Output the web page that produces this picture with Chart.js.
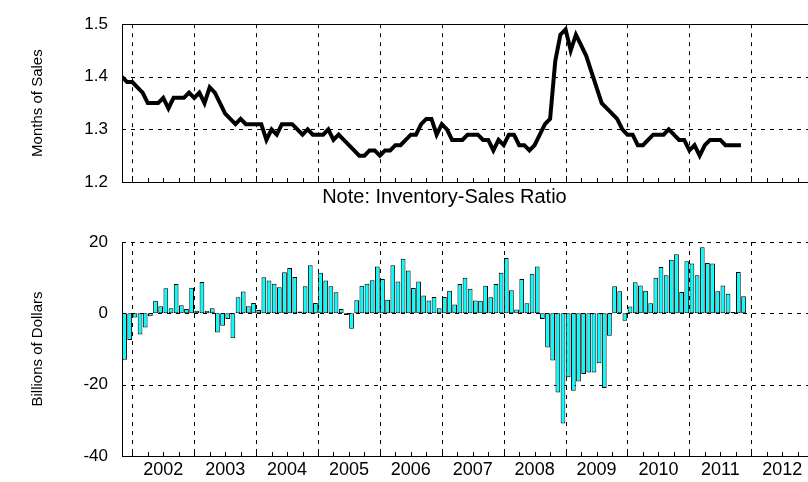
<!DOCTYPE html>
<html>
<head>
<meta charset="utf-8">
<script src="https://cdn.jsdelivr.net/npm/chart.js@4/dist/chart.umd.min.js"></script>
<style>
  body { margin: 0; background: #fff; }
  canvas { display: block; }
</style>
</head>
<body>
<canvas id="ratioChart" width="808" height="215"></canvas>
<canvas id="changeChart" width="808" height="267"></canvas>
<script>
// monthly series, first value is Nov 2001
let firstYear = 2001
let firstMonth = 11

// inventory-sales ratio, months of sales
let ratio = [
  1.40, 1.39, 1.39, 1.38, 1.37, 1.35, 1.35, 1.35, 1.36, 1.34,
  1.36, 1.36, 1.36, 1.37, 1.36, 1.37, 1.35, 1.38, 1.37, 1.35,
  1.33, 1.32, 1.31, 1.32, 1.31, 1.31, 1.31, 1.31, 1.28, 1.30,
  1.29, 1.31, 1.31, 1.31, 1.30, 1.29, 1.30, 1.29, 1.29, 1.29,
  1.30, 1.28, 1.29, 1.28, 1.27, 1.26, 1.25, 1.25, 1.26, 1.26,
  1.25, 1.26, 1.26, 1.27, 1.27, 1.28, 1.29, 1.29, 1.31, 1.32,
  1.32, 1.29, 1.31, 1.30, 1.28, 1.28, 1.28, 1.29, 1.29, 1.29,
  1.28, 1.28, 1.26, 1.28, 1.27, 1.29, 1.29, 1.27, 1.27, 1.26,
  1.27, 1.29, 1.31, 1.32, 1.43, 1.48, 1.49, 1.45, 1.48, 1.46,
  1.44, 1.41, 1.38, 1.35, 1.34, 1.33, 1.32, 1.30, 1.29, 1.29,
  1.27, 1.27, 1.28, 1.29, 1.29, 1.29, 1.30, 1.29, 1.28, 1.28,
  1.26, 1.27, 1.25, 1.27, 1.28, 1.28, 1.28, 1.27, 1.27, 1.27, 1.27
]

// change in inventories, billions of dollars
let inventoryChange = [
  -13.0, -7.5, -1.2, -5.9, -4.0, -0.8, 3.5, 2.0, 7.0, 1.4,
  8.2, 2.3, 1.2, 7.2, 0.7, 8.8, 0.7, 1.4, -5.4, -3.5,
  -1.6, -7.0, 4.5, 6.1, 2.0, 2.9, 0.9, 10.1, 9.2, 8.3,
  7.3, 11.5, 12.7, 10.2, 0.5, 7.6, 13.5, 2.9, 11.4, 9.2,
  7.6, 5.9, 1.2, -0.5, -4.3, 3.7, 7.7, 8.3, 9.3, 13.1,
  9.6, 3.8, 13.5, 8.9, 15.3, 12.0, 7.1, 8.9, 5.0, 3.6,
  4.6, 1.4, 4.6, 6.3, 2.5, 8.2, 10.0, 6.9, 3.6, 3.5,
  7.7, 4.5, 8.2, 11.4, 15.5, 6.5, 1.1, 9.6, 2.8, 11.1,
  13.1, -1.6, -9.6, -13.2, -22.2, -30.9, -17.9, -21.7, -19.1, -17.0,
  -16.6, -16.6, -14.0, -20.9, -6.3, 7.6, 6.2, -2.1, 1.9, 8.7,
  7.8, 6.3, 2.8, 10.0, 13.0, 10.7, 15.0, 16.6, 6.0, 14.6,
  14.0, 10.7, 18.5, 14.1, 14.0, 6.2, 7.8, 5.5, 0.4, 11.6, 4.8
]

let years = [2002, 2003, 2004, 2005, 2006, 2007, 2008, 2009, 2010, 2011, 2012]
let ratioTicks = [1.2, 1.3, 1.4, 1.5]
let changeTicks = [-40, -20, 0, 20]
let note = 'Note: Inventory-Sales Ratio'

// axis runs Nov 2001 .. Dec 2012
let xMin = 2001 + 10 / 12
let xMax = 2012 + 11 / 12

let fontName = "'Liberation Sans', Arial, sans-serif"

function monthX(i) {
        return firstYear + (firstMonth - 1 + i) / 12
}

function dashGrid(yLines, solidTop) {
        return {
                id: 'dashGrid',
                beforeDatasetsDraw(chart) {
                        let ctx = chart.ctx
                        let a = chart.chartArea
                        let xs = chart.scales.x
                        let ys = chart.scales.y
                        ctx.save()
                        ctx.strokeStyle = '#000'
                        ctx.lineWidth = 1
                        ctx.setLineDash([4, 5])
                        years.forEach(function (yr) {
                                let px = Math.round(xs.getPixelForValue(yr)) + 0.5
                                ctx.beginPath()
                                ctx.moveTo(px, a.top)
                                ctx.lineTo(px, a.bottom)
                                ctx.stroke()
                        })
                        yLines.forEach(function (v) {
                                let py = Math.round(ys.getPixelForValue(v)) + 0.5
                                ctx.beginPath()
                                ctx.moveTo(a.left, py)
                                ctx.lineTo(a.right, py)
                                ctx.stroke()
                        })
                        ctx.setLineDash([])
                        // small inward ticks every quarter
                        for (let q = Math.ceil(xMin * 4); q <= xMax * 4; q++) {
                                let px = Math.round(xs.getPixelForValue(q / 4)) + 0.5
                                let len = q % 4 == 0 ? 6 : 4
                                ctx.beginPath()
                                ctx.moveTo(px, a.bottom)
                                ctx.lineTo(px, a.bottom - len)
                                ctx.stroke()
                        }
                        if (solidTop) {
                                let py = Math.round(a.top) + 0.5
                                ctx.beginPath()
                                ctx.moveTo(a.left, py)
                                ctx.lineTo(a.right, py)
                                ctx.stroke()
                        }
                        ctx.restore()
                }
        }
}

// the note sits a little left of the plot centre in the original
let notePlugin = {
        id: 'note',
        afterDraw(chart) {
                let ctx = chart.ctx
                let a = chart.chartArea
                ctx.save()
                ctx.fillStyle = '#000'
                ctx.font = '20px ' + fontName
                ctx.textAlign = 'center'
                ctx.textBaseline = 'middle'
                ctx.fillText(note, a.left + (a.right - a.left) * 0.47, a.bottom + 15)
                ctx.restore()
        }
}

new Chart(document.getElementById('ratioChart'), {
        type: 'line',
        data: {
                datasets: [{
                        data: ratio.map((v, i) => ({ x: monthX(i), y: v })),
                        borderColor: '#000',
                        borderWidth: 4,
                        pointRadius: 0,
                        tension: 0,
                        borderJoinStyle: 'miter'
                }]
        },
        options: {
                responsive: false,
                animation: false,
                layout: { padding: { top: 13, left: 0, right: 0, bottom: 0 } },
                plugins: { legend: { display: false }, tooltip: { enabled: false } },
                scales: {
                        x: {
                                type: 'linear', min: xMin, max: xMax, offset: false,
                                grid: { display: false, drawTicks: false },
                                border: { display: true, color: '#000', width: 1 },
                                ticks: { display: false },
                                afterFit: function (s) { s.height = 33 }
                        },
                        y: {
                                min: 1.2, max: 1.5,
                                afterBuildTicks: function (s) { s.ticks = ratioTicks.map(v => ({ value: v })) },
                                ticks: { callback: v => v.toFixed(1), color: '#000', font: { family: fontName, size: 17 }, padding: 14 },
                                grid: { display: false, drawTicks: false },
                                border: { display: true, color: '#000', width: 1 },
                                title: {
                                        display: true, text: 'Months of Sales', color: '#000',
                                        font: { family: fontName, size: 15 }, padding: { top: 29, bottom: 0 }
                                },
                                afterFit: function (s) { s.width = 122 }
                        }
                }
        },
        plugins: [dashGrid([1.3, 1.4], true), notePlugin]
})

new Chart(document.getElementById('changeChart'), {
        type: 'bar',
        data: {
                datasets: [{
                        // bars sit in the middle of their month
                        data: inventoryChange.map((v, i) => ({ x: monthX(i) + 0.5 / 12, y: v })),
                        backgroundColor: '#00ffff',
                        borderColor: '#000',
                        borderWidth: 1,
                        borderSkipped: false,
                        barPercentage: 0.92,
                        categoryPercentage: 1
                }]
        },
        options: {
                responsive: false,
                animation: false,
                layout: { padding: { top: 27, left: 0, right: 0, bottom: 0 } },
                plugins: { legend: { display: false }, tooltip: { enabled: false } },
                scales: {
                        x: {
                                type: 'linear', min: xMin, max: xMax, offset: false,
                                afterBuildTicks: function (s) { s.ticks = years.map(y => ({ value: y + 0.5 })) },
                                ticks: {
                                        callback: v => String(Math.floor(v)), color: '#000',
                                        font: { family: fontName, size: 18 }, padding: 3,
                                        maxRotation: 0, autoSkip: false
                                },
                                grid: { display: false, drawTicks: false, offset: false },
                                border: { display: true, color: '#000', width: 1 },
                                afterFit: function (s) { s.height = 26 }
                        },
                        y: {
                                min: -40, max: 20,
                                afterBuildTicks: function (s) { s.ticks = changeTicks.map(v => ({ value: v })) },
                                ticks: { color: '#000', font: { family: fontName, size: 17 }, padding: 14 },
                                grid: { display: false, drawTicks: false },
                                border: { display: true, color: '#000', width: 1 },
                                title: {
                                        display: true, text: 'Billions of Dollars', color: '#000',
                                        font: { family: fontName, size: 15 }, padding: { top: 29, bottom: 0 }
                                },
                                afterFit: function (s) { s.width = 122 }
                        }
                }
        },
        plugins: [dashGrid([20, 0, -20], false)]
})
</script>
</body>
</html>
